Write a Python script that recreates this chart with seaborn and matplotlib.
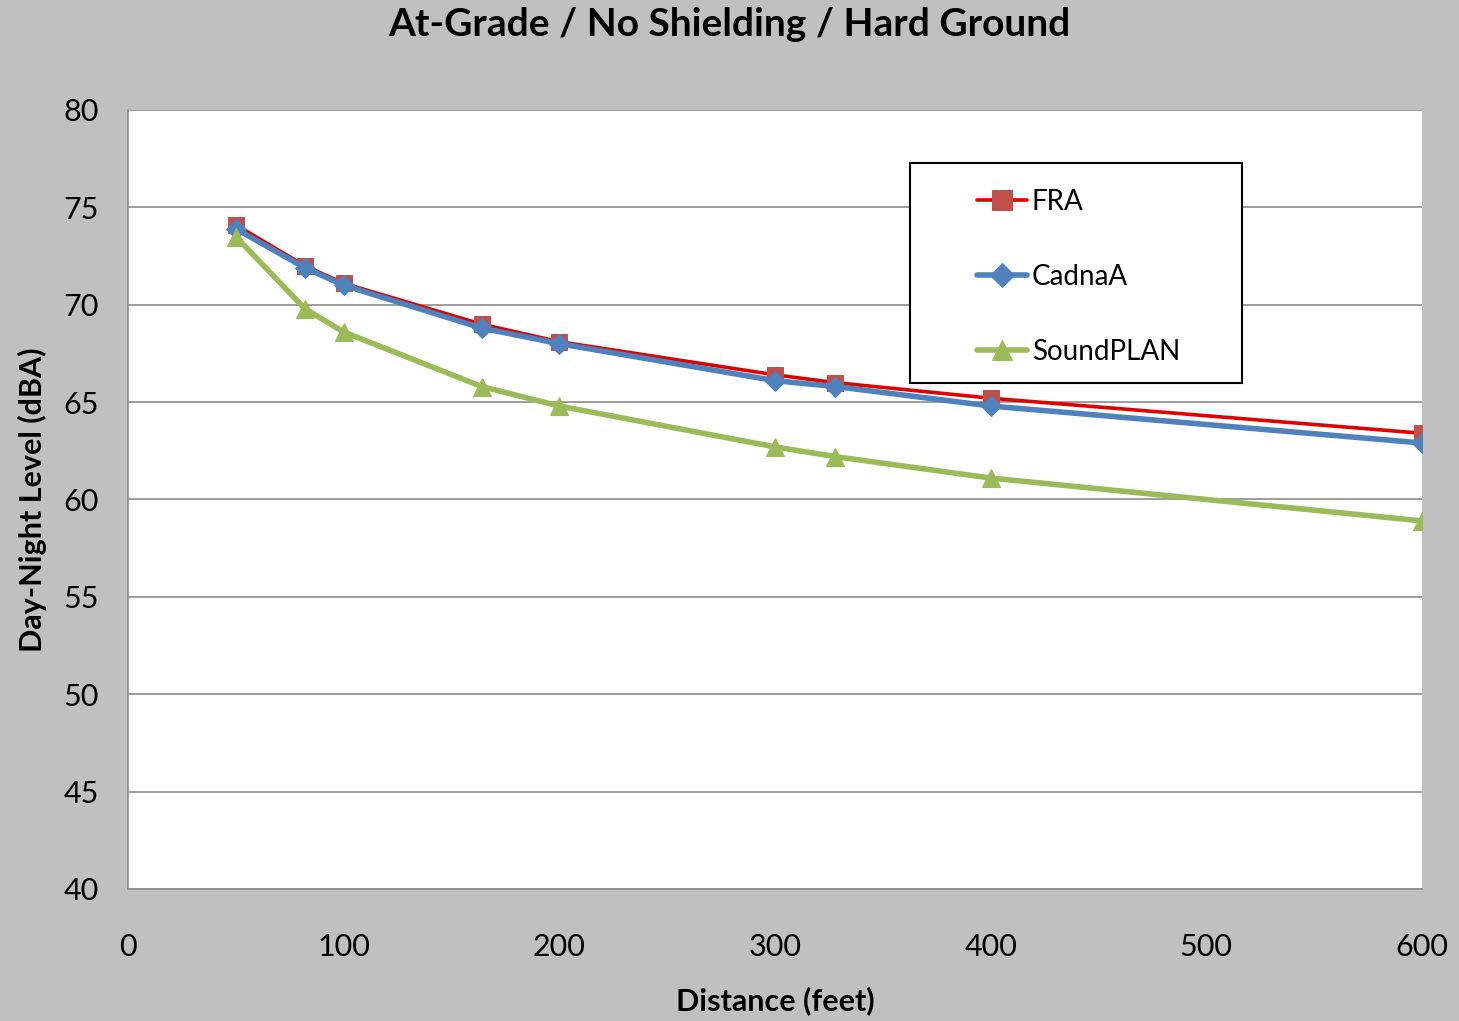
import pandas as pd
import seaborn as sns
import matplotlib.pyplot as plt
from matplotlib.patches import Rectangle

# distances (feet) and modelled Ldn levels
distance = [50, 82, 100, 164, 200, 300, 328, 400, 600]
fra = [74.1, 72.0, 71.1, 69.0, 68.1, 66.4, 66.0, 65.2, 63.4]
cadnaa = [73.9, 71.9, 71.0, 68.8, 68.0, 66.1, 65.8, 64.8, 62.9]
soundplan = [73.5, 69.8, 68.6, 65.8, 64.8, 62.7, 62.2, 61.1, 58.9]

df = pd.DataFrame({'distance': distance, 'FRA': fra, 'CadnaA': cadnaa, 'SoundPLAN': soundplan})
long = df.melt(id_vars='distance', var_name='model', value_name='level')

sns.set_style('white')
plt.rcParams['font.family'] = ['Lato', 'DejaVu Sans']
plt.rcParams.update({'text.color': 'black', 'axes.labelcolor': 'black',
                     'xtick.labelcolor': 'black', 'ytick.labelcolor': 'black'})

fig = plt.figure(figsize=(14.59, 10.21), dpi=100, facecolor='#C0C0C0')
ax = fig.add_axes([0.0877, 0.1293, 0.8869, 0.763])
ax.set_facecolor('white')

styles = {
    'FRA': dict(color='#E00000', lw=2.6, marker='s', ms=11.5, mfc='#C0504D', mec='#C0504D'),
    'CadnaA': dict(color='#4F81BD', lw=4, marker='D', ms=10.5, mfc='#4F81BD', mec='#4F81BD'),
    'SoundPLAN': dict(color='#9BBB59', lw=4, marker='^', ms=12.5, mfc='#9BBB59', mec='#9BBB59'),
}
for name, st in styles.items():
    sub = long[long['model'] == name]
    sns.lineplot(ax=ax, data=sub, x='distance', y='level', label=name,
                 color=st['color'], linewidth=st['lw'], marker=st['marker'],
                 markersize=st['ms'], markerfacecolor=st['mfc'],
                 markeredgecolor=st['mec'], zorder=3)

ax.set_xlim(0, 600)
ax.set_ylim(40, 80)
ax.set_xticks(range(0, 601, 100))
ax.set_yticks(range(40, 81, 5))
ax.yaxis.grid(True, color='#8C8C8C', lw=1.2)
ax.xaxis.grid(False)
for s in ['top', 'right']:
    ax.spines[s].set_visible(False)
for s in ['left', 'bottom']:
    ax.spines[s].set_color('#8C8C8C')
    ax.spines[s].set_linewidth(1.2)
ax.tick_params(axis='both', direction='out', length=7, color='#8C8C8C',
               labelsize=22, labelcolor='black')
ax.tick_params(axis='y', pad=14)
ax.tick_params(axis='x', pad=25)

ax.set_xlabel('Distance (feet)', fontsize=22, fontweight='bold', labelpad=18, color='black')
ax.set_ylabel('Day-Night Level (dBA)', fontsize=22, fontweight='bold', labelpad=12, color='black')
fig.text(0.5, 1 - 25 / 1021, 'At-Grade / No Shielding / Hard Ground', fontsize=28,
         fontweight='bold', ha='center', va='center', color='black')

# legend box
ax.add_patch(Rectangle((910 / 1459, 1 - 383 / 1021), 332 / 1459, 220 / 1021,
                       transform=fig.transFigure, facecolor='white', clip_on=False,
                       edgecolor='black', lw=1.5, zorder=5))
leg = ax.legend(loc='upper left', bbox_to_anchor=(977 / 1459, 1 - 189 / 1021),
                bbox_transform=fig.transFigure, fontsize=20, frameon=False,
                borderpad=0, borderaxespad=0, labelspacing=1.76,
                handlelength=1.8, handletextpad=0.18, markerscale=1.2)
leg.set_zorder(6)
for t in leg.get_texts():
    t.set_color('black')

fig.savefig('out.png', dpi=100, facecolor=fig.get_facecolor())
